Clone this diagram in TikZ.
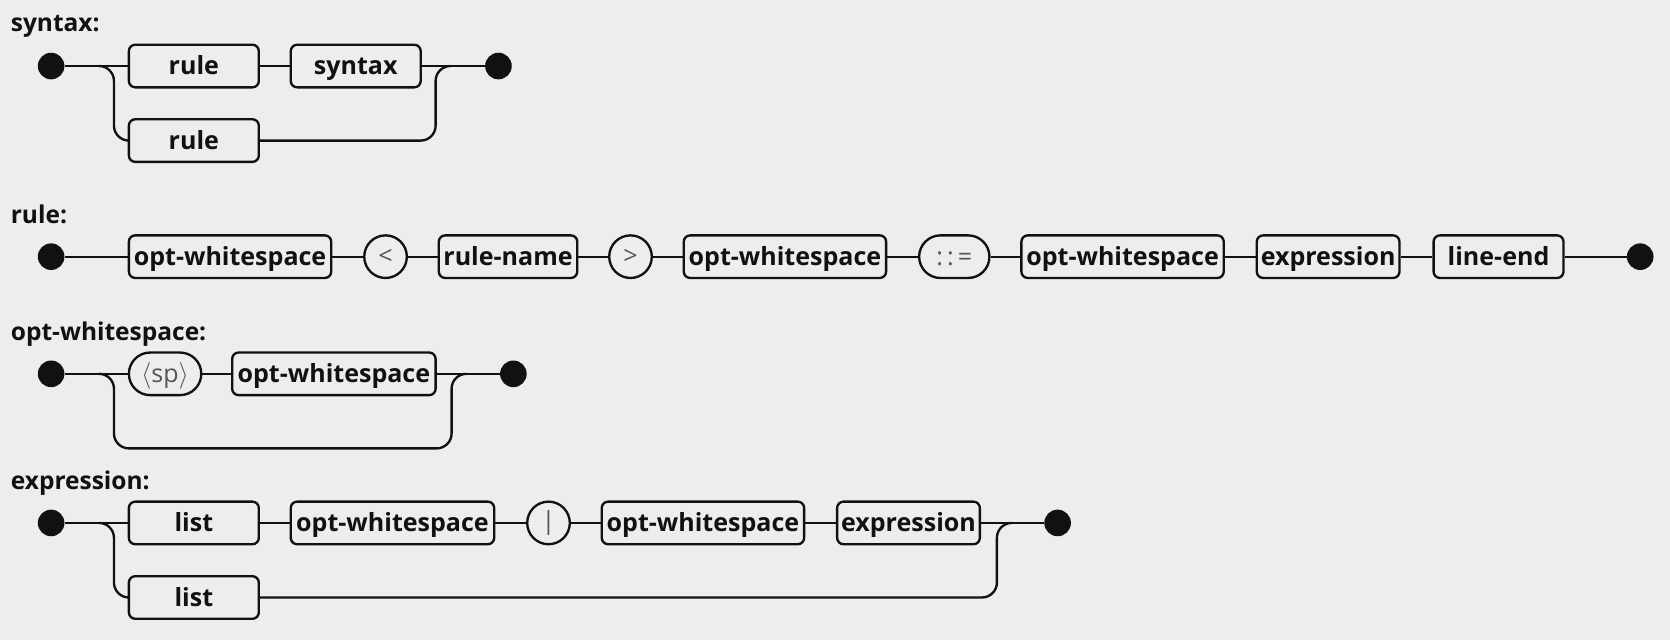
\documentclass[tikz,border=0pt]{standalone}
\usepackage{fontspec}
\setmainfont{Open Sans}
\usetikzlibrary{calc}
\definecolor{bg}{HTML}{EDEDED}
\definecolor{ink}{HTML}{111111}
\definecolor{lit}{HTML}{555555}
\begin{document}
\begin{tikzpicture}[x=1pt,y=-1pt,
  nt/.style={draw=ink, line width=2.2pt, rectangle, rounded corners=6pt, minimum height=40pt, inner sep=0pt, text height=16pt, text depth=0pt, font=\fontsize{23.5}{28}\selectfont\bfseries, text=ink},
  lt/.style={draw=ink, line width=2.2pt, rectangle, rounded corners=20pt, minimum height=40pt, inner sep=0pt, text height=16pt, text depth=0pt, font=\fontsize{23.5}{28}\selectfont, text=lit},
  ct/.style={draw=ink, line width=2.2pt, circle, minimum size=40pt, inner sep=0pt, font=\fontsize{23.5}{28}\selectfont, text=lit},
  dot/.style={circle, fill=ink, minimum size=25pt, inner sep=0pt},
  conn/.style={draw=ink, line width=2.2pt},
  branch/.style={conn, rounded corners=14pt},
  lbl/.style={anchor=base west, inner sep=0pt, font=\fontsize{23}{28}\selectfont\bfseries, text=ink}]
\fill[bg] (0,0) rectangle (1568,601);
\useasboundingbox (0,0) rectangle (1568,601);

% ---------- syntax ----------
\node[lbl] (la) at (10,30) {syntax:};
\node[dot] (a0) at (48,62) {};
\node[nt, minimum width=122pt] (a1) at (182,62) {rule};
\node[nt, minimum width=122pt] (a2) at (334,62) {syntax};
\node[dot] (a3) at (468,62) {};
\node[nt, minimum width=122pt] (a4) at (182,132) {rule};
\coordinate (aj1) at (93,62);
\coordinate (aj2) at (423,62);
\draw[conn] (a0) -- (a1);
\draw[conn] (a1) -- (a2);
\draw[conn] (a2) -- (a3);
\draw[branch] (aj1) -- ++(14,0) |- (a4.west);
\draw[branch] (a4.east) -| ($(aj2)+(-14,0)$) -- (aj2);

% ---------- rule ----------
\node[lbl] (lb) at (10,210) {rule:};
\node[dot] (b0) at (48,241) {};
\node[nt, minimum width=190pt] (b1) at (216,241) {opt-whitespace};
\node[ct] (b2) at (362,241) {<};
\node[nt, minimum width=130pt] (b3) at (477,241) {rule-name};
\node[ct] (b4) at (592,241) {>};
\node[nt, minimum width=190pt] (b5) at (737,241) {opt-whitespace};
\node[lt, minimum width=66pt] (b6) at (896,241) {:\,:\,=};
\node[nt, minimum width=190pt] (b7) at (1054,241) {opt-whitespace};
\node[nt, minimum width=134pt] (b8) at (1247,241) {expression};
\node[nt, minimum width=122pt] (b9) at (1407,241) {line-end};
\node[dot] (b10) at (1540,241) {};
\draw[conn] (b0) -- (b1);
\draw[conn] (b1) -- (b2);
\draw[conn] (b2) -- (b3);
\draw[conn] (b3) -- (b4);
\draw[conn] (b4) -- (b5);
\draw[conn] (b5) -- (b6);
\draw[conn] (b6) -- (b7);
\draw[conn] (b7) -- (b8);
\draw[conn] (b8) -- (b9);
\draw[conn] (b9) -- (b10);

% ---------- opt-whitespace ----------
\node[lbl] (lc) at (10,320) {opt-whitespace:};
\node[dot] (c0) at (48,351) {};
\node[lt, minimum width=68pt] (c1) at (155,351) {$\langle$sp$\rangle$};
\node[nt, minimum width=191pt] (c2) at (313.5,351) {opt-whitespace};
\node[dot] (c3) at (482,351) {};
\coordinate (cj1) at (93,351);
\coordinate (cb) at (424,421);
\coordinate (cj2) at (438,351);
\draw[conn] (c0) -- (c1);
\draw[conn] (c1) -- (c2);
\draw[conn] (c2) -- (c3);
\draw[branch] (cj1) -- ++(14,0) |- (cb) |- (cj2);

% ---------- expression ----------
\node[lbl] (ld) at (10,460) {expression:};
\node[dot] (d0) at (48,491) {};
\node[nt, minimum width=122pt] (d1) at (182,491) {list};
\node[nt, minimum width=191pt] (d2) at (368.5,491) {opt-whitespace};
\node[ct] (d3) at (515,491) {|};
\node[nt, minimum width=190pt] (d4) at (660,491) {opt-whitespace};
\node[nt, minimum width=134pt] (d5) at (853,491) {expression};
\node[dot] (d6) at (993,491) {};
\node[nt, minimum width=122pt] (d7) at (182,561) {list};
\coordinate (dj1) at (93,491);
\coordinate (dj2) at (950,491);
\draw[conn] (d0) -- (d1);
\draw[conn] (d1) -- (d2);
\draw[conn] (d2) -- (d3);
\draw[conn] (d3) -- (d4);
\draw[conn] (d4) -- (d5);
\draw[conn] (d5) -- (d6);
\draw[branch] (dj1) -- ++(14,0) |- (d7.west);
\draw[branch] (d7.east) -| ($(dj2)+(-14,0)$) -- (dj2);
\end{tikzpicture}
\end{document}
